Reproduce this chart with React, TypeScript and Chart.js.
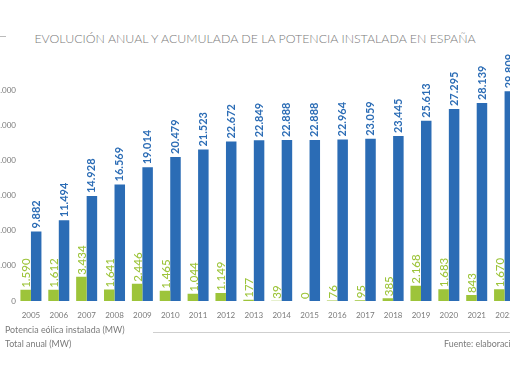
import React, { useEffect, useRef } from 'react';
import { Chart, registerables } from 'chart.js';

Chart.register(...registerables);

const years = ['2005', '2006', '2007', '2008', '2009', '2010', '2011', '2012', '2013', '2014', '2015', '2016', '2017', '2018', '2019', '2020', '2021', '2022'];
const annualMW = [1590, 1612, 3434, 1641, 2446, 1465, 1044, 1149, 177, 39, 0, 76, 95, 385, 2168, 1683, 843, 1670];
const cumulativeMW = [9882, 11494, 14928, 16569, 19014, 20479, 21523, 22672, 22849, 22888, 22888, 22964, 23059, 23445, 25613, 27295, 28139, 29809];
const yMax = 30000;
const yStep = 5000;

const BLUE = '#2b6cb5';
const GREEN = '#9dc43a';
const GRAY = '#7a7a7a';
const FONT = 'Lato, "Open Sans", sans-serif';

function fmt(v: number): string {
  return String(v).replace(/\B(?=(\d{3})+(?!\d))/g, '.');
}

const labelPlugin = {
  id: 'barLabels',
  afterDatasetsDraw(chart: any) {
    const ctx = chart.ctx;
    chart.data.datasets.forEach((ds: any, i: number) => {
      const meta = chart.getDatasetMeta(i);
      meta.data.forEach((bar: any, j: number) => {
        const v = ds.data[j];
        ctx.save();
        ctx.translate(bar.x + (i === 0 ? 1 : 0), bar.y - (i === 0 ? 2 : 3));
        ctx.rotate(-Math.PI / 2);
        ctx.font = i === 0 ? `500 11.5px ${FONT}` : `bold 11px ${FONT}`;
        ctx.fillStyle = i === 0 ? GREEN : BLUE;
        ctx.textAlign = 'left';
        ctx.textBaseline = 'middle';
        ctx.fillText(fmt(v), 0, 0);
        ctx.restore();
      });
    });
  },
};

export default function App() {
  const ref = useRef<HTMLCanvasElement | null>(null);

  useEffect(() => {
    if (!ref.current) return;
    const chart = new Chart(ref.current, {
      type: 'bar',
      data: {
        labels: years,
        datasets: [
          { label: 'Total anual (MW)', data: annualMW, backgroundColor: GREEN },
          { label: 'Potencia eólica instalada (MW)', data: cumulativeMW, backgroundColor: BLUE },
        ],
      },
      options: {
        responsive: false,
        animation: false,
        devicePixelRatio: 1,
        datasets: { bar: { categoryPercentage: 0.754, barPercentage: 1 } },
        layout: { padding: { top: 90, right: 21.5, bottom: 59, left: 0 } },
        plugins: { legend: { display: false }, tooltip: { enabled: false }, title: { display: false } },
        scales: {
          x: {
            grid: { display: false, drawTicks: false },
            border: { display: false },
            ticks: { color: GRAY, font: { size: 8, family: FONT }, padding: 10, maxRotation: 0, autoSkip: false },
            afterFit(s: any) { s.height = 22; },
          },
          y: {
            min: 0,
            max: yMax,
            grid: { display: false, drawTicks: false },
            border: { display: false },
            ticks: { stepSize: yStep, color: GRAY, font: { size: 8, family: FONT }, padding: 1, callback: (v: any) => fmt(Number(v)) },
            afterFit(s: any) { s.width = 37; },
          },
        },
      },
      plugins: [labelPlugin],
    });
    return () => chart.destroy();
  }, []);

  return (
    <div style={{ position: 'fixed', left: 0, top: 0, width: 510, height: 382, overflow: 'hidden', background: '#fff', fontFamily: FONT }}>
      <div style={{ position: 'absolute', left: 0, top: 36, width: 6, height: 1, background: '#bbb' }} />
      <div style={{ position: 'absolute', left: 0, top: 30, width: 510, textAlign: 'center', color: GRAY, fontSize: 12.4, fontWeight: 300, lineHeight: '18px', whiteSpace: 'nowrap' }}>
        EVOLUCIÓN ANUAL Y ACUMULADA DE LA POTENCIA INSTALADA EN ESPAÑA
      </div>
      <canvas ref={ref} width={560} height={382} style={{ position: 'absolute', left: -20, top: 0, width: 560, height: 382 }} />
      <div style={{ position: 'absolute', left: 5, top: 324, color: GRAY, fontSize: 8.9, lineHeight: '12px', whiteSpace: 'nowrap' }}>
        Potencia eólica instalada (MW)
      </div>
      <div style={{ position: 'absolute', left: 5, top: 338, color: GRAY, fontSize: 8.9, lineHeight: '12px', whiteSpace: 'nowrap' }}>
        Total anual (MW)
      </div>
      <div style={{ position: 'absolute', left: 153, top: 332, width: 400, height: 1, background: '#cfcfcf' }} />
      <div style={{ position: 'absolute', left: 444, top: 338, color: GRAY, fontSize: 8.9, lineHeight: '12px', whiteSpace: 'nowrap' }}>
        Fuente: elaboración propia
      </div>
    </div>
  );
}
